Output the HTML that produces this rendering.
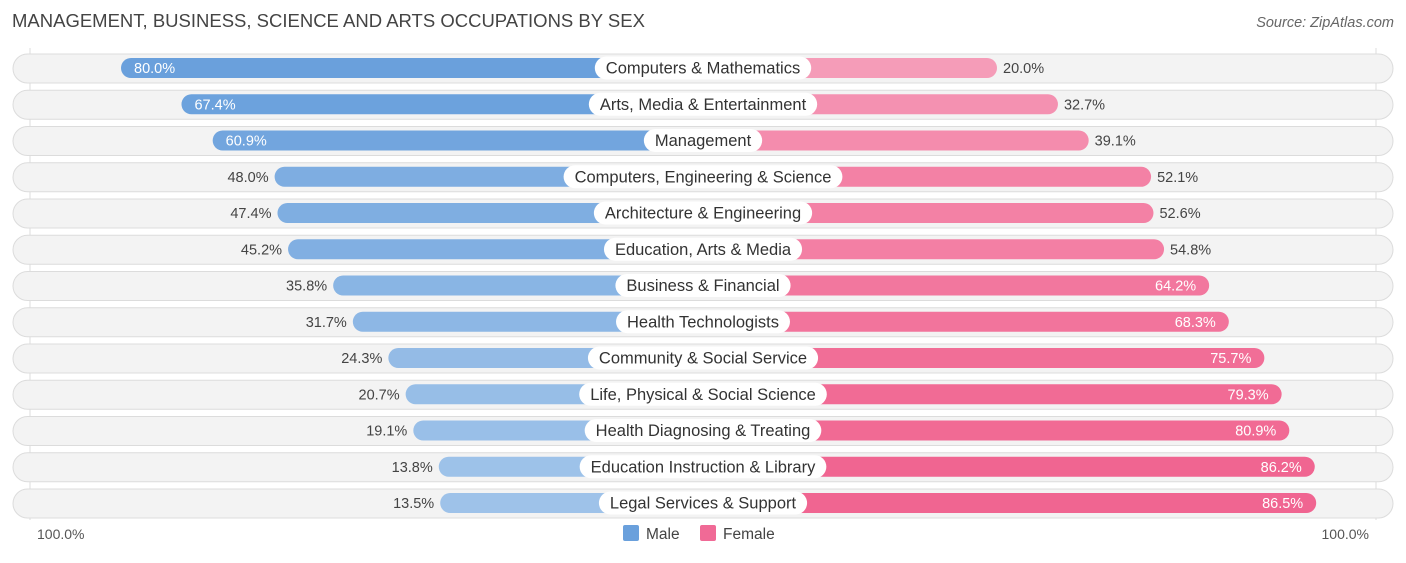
<!DOCTYPE html>
<html><head><meta charset="utf-8"><style>
body{margin:0;background:#fff;width:1406px;height:558px;overflow:hidden;font-family:"Liberation Sans",sans-serif}
</style></head><body>
<svg id="chart" width="1406" height="558" xmlns="http://www.w3.org/2000/svg" font-family="Liberation Sans, sans-serif">
<text x="12" y="27" font-size="18.5" fill="#444">MANAGEMENT, BUSINESS, SCIENCE AND ARTS OCCUPATIONS BY SEX</text>
<text x="1394" y="27" font-size="14.5" fill="#666" text-anchor="end" font-style="italic">Source: ZipAtlas.com</text>
<line x1="30" y1="48" x2="30" y2="520" stroke="#ddd"/>
<line x1="1376" y1="48" x2="1376" y2="520" stroke="#ddd"/>
<g id="rows"></g>
<text x="37" y="539" font-size="14" fill="#555">100.0%</text>
<text x="1369" y="539" font-size="14" fill="#555" text-anchor="end">100.0%</text>
<g>
<rect x="623" y="525" width="16" height="16" rx="2" fill="#6aa0dc"/>
<text x="646" y="539" font-size="15.5" fill="#444">Male</text>
<rect x="700" y="525" width="16" height="16" rx="2" fill="#f06a96"/>
<text x="723" y="539" font-size="15.5" fill="#444">Female</text>
</g>
</svg>
<script>
const categories=["Computers & Mathematics","Arts, Media & Entertainment","Management","Computers, Engineering & Science","Architecture & Engineering","Education, Arts & Media","Business & Financial","Health Technologists","Community & Social Service","Life, Physical & Social Science","Health Diagnosing & Treating","Education Instruction & Library","Legal Services & Support"];
const maleValues=[80.0,67.4,60.9,48.0,47.4,45.2,35.8,31.7,24.3,20.7,19.1,13.8,13.5];
const femaleValues=[20.0,32.7,39.1,52.1,52.6,54.8,64.2,68.3,75.7,79.3,80.9,86.2,86.5];
const NS="http://www.w3.org/2000/svg";
const g=document.getElementById('rows');
const CX=703, K=4.8;
function xMale(v){return 505-K*v;}
function xFemale(v){return 901+K*v;}
function rowY(i){return 68+i*36.25;}
function mk(t,a){const e=document.createElementNS(NS,t);for(const k in a)e.setAttribute(k,a[k]);return e;}
function mix(a,b,t){return 'rgb('+a.map((c,i)=>Math.round(c+(b[i]-c)*t)).join(',')+')';}
categories.forEach((c,i)=>{
  const y=rowY(i);
  const bg=mk('rect',{x:13,y:y-14,width:1380,height:29,rx:14.5,fill:'#f3f3f3',stroke:'#dcdcdc'});
  
  
  g.appendChild(bg);
  const m=maleValues[i], f=femaleValues[i];
  const mx=xMale(m);
  const mb=mk('rect',{x:mx,y:y-10,width:CX-mx,height:20,rx:10,fill:mix([170,202,236],[106,160,220],Math.min(1,m/70))});
  
  
  g.appendChild(mb);
  const fx=xFemale(f);
  const fb=mk('rect',{x:CX,y:y-10,width:fx-CX,height:20,rx:10,fill:mix([247,172,196],[240,100,144],Math.min(1,f/88))});
  
  
  g.appendChild(fb);
  const mIn=m>=55, fIn=f>=60;
  const mt=mk('text',{x:mIn?mx+13:mx-6,y:y+5,'font-size':14.5,fill:mIn?'#fff':'#444','text-anchor':mIn?'start':'end'});
  mt.textContent=m.toFixed(1)+'%';
  
  
  g.appendChild(mt);
  const ft=mk('text',{x:fIn?fx-13:fx+6,y:y+5,'font-size':14.5,fill:fIn?'#fff':'#444','text-anchor':fIn?'end':'start'});
  ft.textContent=f.toFixed(1)+'%';
  
  
  g.appendChild(ft);
  const lt=mk('text',{x:CX,y:y+5.5,'font-size':16.5,fill:'#333','text-anchor':'middle'});
  lt.textContent=c;
  g.appendChild(lt);
  const w=lt.getComputedTextLength()+22;
  const lb=mk('rect',{x:CX-w/2,y:y-11.5,width:w,height:23,rx:11.5,fill:'#fff'});
  
  
  g.insertBefore(lb,lt);
  
  
});
</script>
</body></html>
